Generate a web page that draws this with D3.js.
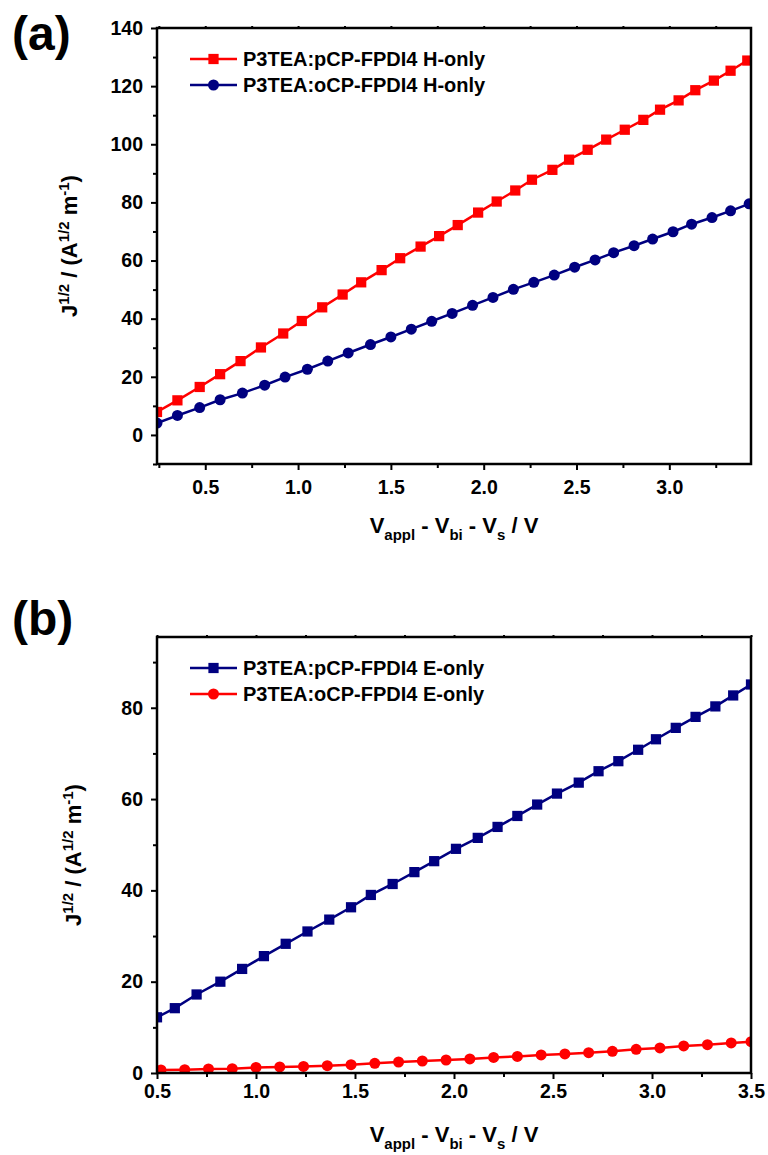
<!DOCTYPE html>
<html>
<head>
<meta charset="utf-8">
<script src="https://cdn.jsdelivr.net/npm/d3@7"></script>
<style>
  body { margin: 0; background: #fff; }
  text { font-family: "Liberation Sans", Arial, sans-serif; font-weight: bold; fill: #000; }
</style>
</head>
<body>
<div id="chart"></div>
<script>
// panel (a): hole-only devices
var aRedX = [0.24,0.35,0.47,0.58,0.69,0.80,0.92,1.02,1.13,1.24,1.34,1.45,1.55,1.66,1.76,1.86,1.97,2.07,2.17,2.26,2.37,2.46,2.56,2.66,2.76,2.86,2.95,3.05,3.14,3.24,3.33,3.42]
var aRedY = [7.9,11.9,16.5,20.9,25.4,30.1,34.9,39.2,43.9,48.3,52.5,56.7,60.8,64.8,68.4,72.2,76.5,80.3,84.1,87.8,91.2,94.7,98.1,101.6,105.0,108.4,111.9,115.1,118.6,121.9,125.3,128.8]
var aBlueX = [0.24,0.35,0.47,0.58,0.70,0.82,0.93,1.05,1.16,1.27,1.39,1.50,1.61,1.72,1.83,1.94,2.05,2.16,2.27,2.38,2.49,2.60,2.70,2.81,2.91,3.02,3.12,3.23,3.33,3.43]
var aBlueY = [4.1,6.7,9.4,12.1,14.4,17.1,19.9,22.6,25.4,28.2,31.1,33.7,36.4,39.1,41.8,44.6,47.3,50.1,52.5,55.0,57.7,60.2,62.7,65.1,67.4,69.9,72.5,74.8,77.1,79.5]
var aLegend = ["P3TEA:pCP-FPDI4 H-only", "P3TEA:oCP-FPDI4 H-only"]
var aXMajor = [0.5,1.0,1.5,2.0,2.5,3.0]
var aXMinor = [0.25,0.75,1.25,1.75,2.25,2.75,3.25]
var aYMajor = [0,20,40,60,80,100,120,140]
var aYMinor = [-10,10,30,50,70,90,110,130]

// panel (b): electron-only devices
var bBlueX = [0.50,0.59,0.70,0.82,0.93,1.04,1.15,1.26,1.37,1.48,1.58,1.69,1.80,1.90,2.01,2.12,2.22,2.32,2.42,2.52,2.63,2.73,2.83,2.93,3.02,3.12,3.22,3.32,3.41,3.50]
var bBlueY = [12.2,14.2,17.2,20.0,22.8,25.6,28.3,31.0,33.6,36.3,39.0,41.4,44.0,46.4,49.1,51.5,53.9,56.3,58.8,61.2,63.6,66.1,68.3,70.8,73.1,75.6,78.0,80.3,82.7,85.1]
var bRedX = [0.52,0.64,0.76,0.88,1.00,1.12,1.24,1.36,1.48,1.60,1.72,1.84,1.96,2.08,2.20,2.32,2.44,2.56,2.68,2.80,2.92,3.04,3.16,3.28,3.40,3.50]
var bRedY = [0.66,0.72,0.88,0.94,1.23,1.32,1.45,1.60,1.82,2.11,2.41,2.63,2.85,3.07,3.42,3.64,3.95,4.17,4.45,4.74,5.18,5.48,5.92,6.21,6.58,6.86]
var bLegend = ["P3TEA:pCP-FPDI4 E-only", "P3TEA:oCP-FPDI4 E-only"]
var bXMajor = [0.5,1.0,1.5,2.0,2.5,3.0,3.5]
var bXMinor = [0.75,1.25,1.75,2.25,2.75,3.25]
var bYMajor = [0,20,40,60,80]
var bYMinor = [10,30,50,70,90]

var RED = "#ff0000"
var NAVY = "#000080"

var svg = d3.select("#chart").append("svg")
    .attr("width", 768)
    .attr("height", 1155)

var left = 157, right = 751

function zip(xs, ys){
    return xs.map(function(d, i){ return [d, ys[i]] })
}

function drawPanel(p){
    var g = svg.append("g")
    var x = d3.scaleLinear().domain(p.xDomain).range([left, right])
    var y = d3.scaleLinear().domain(p.yDomain).range([p.bottom, p.top])

    // clip the curves to the frame
    g.append("clipPath").attr("id", p.id + "clip")
        .append("rect")
        .attr("x", left).attr("y", p.top)
        .attr("width", right - left).attr("height", p.bottom - p.top)

    // bottom axis
    g.append("g").attr("transform", "translate(0," + p.bottom + ")")
        .call(d3.axisBottom(x).tickValues(p.xMinor).tickSize(4).tickFormat(""))
    g.append("g").attr("transform", "translate(0," + p.bottom + ")")
        .call(d3.axisBottom(x).tickValues(p.xMajor).tickSize(6).tickPadding(p.xPad).tickFormat(d3.format(".1f")))
    // top axis, tiny outward ticks
    g.append("g").attr("transform", "translate(0," + p.top + ")")
        .call(d3.axisTop(x).tickValues(p.xMajor.concat(p.xMinor)).tickSize(2).tickFormat(""))
    // left axis
    g.append("g").attr("transform", "translate(" + left + ",0)")
        .call(d3.axisLeft(y).tickValues(p.yMinor).tickSize(4).tickFormat(""))
    g.append("g").attr("transform", "translate(" + left + ",0)")
        .call(d3.axisLeft(y).tickValues(p.yMajor).tickSize(6).tickPadding(8).tickFormat(d3.format("d")))

    g.selectAll(".domain").remove()
    g.selectAll(".tick line").attr("stroke", "#000").attr("stroke-width", 2)
    g.selectAll(".tick text").style("font-size", "19.5px").style("font-family", "'Liberation Sans', Arial, sans-serif").style("font-weight", "bold").attr("fill", "#000")

    var plot = g.append("g").attr("clip-path", "url(#" + p.id + "clip)")
    var line = d3.line().x(function(d){ return x(d[0]) }).y(function(d){ return y(d[1]) })

    p.series.forEach(function(s){
        var pts = zip(s.x, s.y)
        plot.append("path").datum(pts)
            .attr("d", line)
            .attr("fill", "none")
            .attr("stroke", s.color)
            .attr("stroke-width", 2.5)
        plot.selectAll(null).data(pts).enter()
            .append("path")
            .attr("d", d3.symbol().type(s.shape).size(s.shape === d3.symbolSquare ? 105 : 95))
            .attr("transform", function(d){ return "translate(" + x(d[0]) + "," + y(d[1]) + ")" })
            .attr("fill", s.color)
    })

    // frame
    g.append("rect")
        .attr("x", left).attr("y", p.top)
        .attr("width", right - left).attr("height", p.bottom - p.top)
        .attr("fill", "none").attr("stroke", "#000").attr("stroke-width", 2.5)

    // legend
    p.series.forEach(function(s, i){
        var ly = p.legendY + i * 26
        g.append("line").attr("x1", 190).attr("x2", 237).attr("y1", ly).attr("y2", ly)
            .attr("stroke", s.color).attr("stroke-width", 2.5)
        g.append("path")
            .attr("d", d3.symbol().type(s.shape).size(s.shape === d3.symbolSquare ? 105 : 95))
            .attr("transform", "translate(213.5," + ly + ")")
            .attr("fill", s.color)
        g.append("text").attr("x", 243).attr("y", ly + 7)
            .style("font-size", "20px")
            .text(p.legend[i])
    })

    // x title
    var xt = g.append("text")
        .attr("x", (left + right) / 2).attr("y", p.xTitleY)
        .attr("text-anchor", "middle")
        .style("font-size", "22px")
    xt.append("tspan").text("V")
    xt.append("tspan").attr("dy", 7).style("font-size", "15px").text("appl")
    xt.append("tspan").attr("dy", -7).text(" - V")
    xt.append("tspan").attr("dy", 7).style("font-size", "15px").text("bi")
    xt.append("tspan").attr("dy", -7).text(" - V")
    xt.append("tspan").attr("dy", 7).style("font-size", "15px").text("s")
    xt.append("tspan").attr("dy", -7).text(" / V")

    // y title
    var yt = g.append("text")
        .attr("transform", "translate(" + p.yTitleX + "," + ((p.top + p.bottom) / 2) + ") rotate(-90)")
        .attr("text-anchor", "middle")
        .style("font-size", "22px")
    yt.append("tspan").text("J")
    yt.append("tspan").attr("dy", -8).style("font-size", "15px").text("1/2")
    yt.append("tspan").attr("dy", 8).text(" / (A")
    yt.append("tspan").attr("dy", -8).style("font-size", "15px").text("1/2")
    yt.append("tspan").attr("dy", 8).text(" m")
    yt.append("tspan").attr("dy", -8).style("font-size", "15px").text("-1")
    yt.append("tspan").attr("dy", 8).text(")")

    // panel letter
    g.append("text").attr("x", 12).attr("y", p.letterY)
        .style("font-size", "48px")
        .text(p.letter)
}

drawPanel({
    id: "a", top: 28, bottom: 464,
    xDomain: [0.24, 3.44], yDomain: [-10, 140],
    xMajor: aXMajor, xMinor: aXMinor, yMajor: aYMajor, yMinor: aYMinor,
    xPad: 10, xTitleY: 533, yTitleX: 77, letterY: 50, legendY: 59,
    legend: aLegend, letter: "(a)",
    series: [
        {x: aRedX, y: aRedY, color: RED, shape: d3.symbolSquare},
        {x: aBlueX, y: aBlueY, color: NAVY, shape: d3.symbolCircle}
    ]
})

drawPanel({
    id: "b", top: 637, bottom: 1073,
    xDomain: [0.5, 3.5], yDomain: [0, 95.5],
    xMajor: bXMajor, xMinor: bXMinor, yMajor: bYMajor, yMinor: bYMinor,
    xPad: 5, xTitleY: 1142, yTitleX: 81, letterY: 635, legendY: 668,
    legend: bLegend, letter: "(b)",
    series: [
        {x: bBlueX, y: bBlueY, color: NAVY, shape: d3.symbolSquare},
        {x: bRedX, y: bRedY, color: RED, shape: d3.symbolCircle}
    ]
})
</script>
</body>
</html>
